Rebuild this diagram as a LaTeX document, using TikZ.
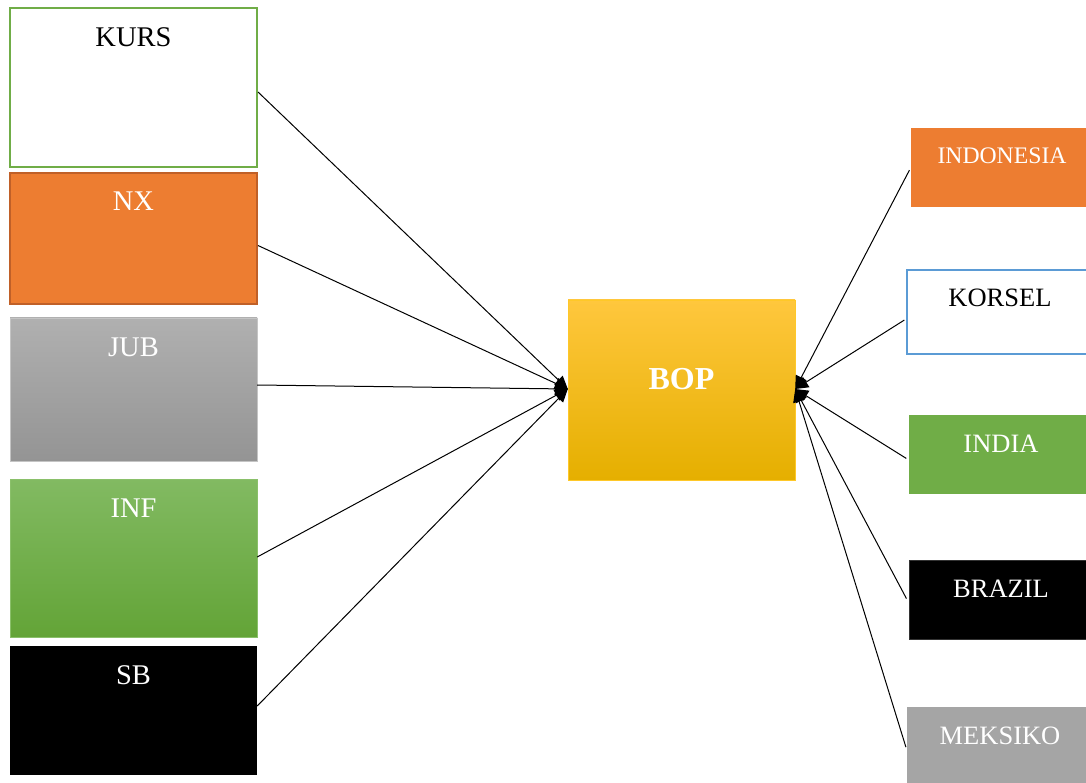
\documentclass[tikz,border=0pt]{standalone}
\usepackage{fontspec}
\setmainfont{Liberation Serif}
\usetikzlibrary{arrows.meta}
\tikzset{
    box/.style={rectangle, inner sep=0pt, minimum width=247pt},
    lbl/.style={anchor=north, yshift=-20pt, inner sep=0pt, font=\fontsize{28.5}{34}\selectfont},
    rlbl/.style={anchor=north, yshift=-20pt, inner sep=0pt, font=\fontsize{26.5}{32}\selectfont},
    arr/.style={-{Triangle[length=13pt,width=12pt]}, line width=1pt},
}
\begin{document}
\begin{tikzpicture}[x=1pt,y=-1pt]
    \useasboundingbox (0,0) rectangle (1086,783);
    % left side
    \node[box, minimum height=159pt, line width=2pt, draw={rgb,255:red,112;green,173;blue,71}, fill=white,
        label={[lbl]north:KURS}] (kurs) at (133.5,87.5) {};
    \node[box, minimum height=131pt, fill={rgb,255:red,237;green,125;blue,49}, draw={rgb,255:red,192;green,96;blue,40}, line width=2pt,
        label={[lbl,white]north:NX}] (nx) at (133.5,238.5) {};
    \node[box, minimum height=143pt, top color={rgb,255:red,176;green,176;blue,176}, bottom color={rgb,255:red,148;green,148;blue,148}, draw={rgb,255:red,196;green,196;blue,196},
        label={[lbl,white]north:JUB}] (jub) at (133.5,389.5) {};
    \node[box, minimum height=158pt, top color={rgb,255:red,130;green,186;blue,98}, middle color={rgb,255:red,112;green,173;blue,71}, bottom color={rgb,255:red,99;green,164;blue,55}, draw={rgb,255:red,138;green,192;blue,106},
        label={[lbl,white]north:INF}] (inf) at (133.5,558) {};
    \node[box, minimum height=129pt, fill=black,
        label={[lbl,white]north:SB}] (sb) at (133.5,710.5) {};
    % centre
    \node[rectangle, minimum width=227pt, minimum height=180pt, top color={rgb,255:red,255;green,199;blue,61}, middle color={rgb,255:red,255;green,192;blue,0}, bottom color={rgb,255:red,229;green,175;blue,0}, draw={rgb,255:red,255;green,200;blue,40},
        text=white, font=\fontsize{32}{38}\selectfont\bfseries, text depth=22pt] (bop) at (681.5,390) {BOP};
    % right side
    \node[box, minimum width=182pt, minimum height=79pt, fill={rgb,255:red,237;green,125;blue,49},
        label={[rlbl,white,font=\fontsize{23.7}{28}\selectfont]north:INDONESIA}] (indonesia) at (1002,167.5) {};
    \node[box, minimum width=186pt, minimum height=84pt, fill=white, draw={rgb,255:red,91;green,155;blue,213}, line width=2pt,
        label={[rlbl]north:KORSEL}] (korsel) at (1000,312) {};
    \node[box, minimum width=184pt, minimum height=79pt, fill={rgb,255:red,112;green,173;blue,71},
        label={[rlbl,white]north:INDIA}] (india) at (1001,454.5) {};
    \node[box, minimum width=184pt, minimum height=79pt, fill=black, draw=black!80,
        label={[rlbl,white]north:BRAZIL}] (brazil) at (1001,599.5) {};
    \node[box, minimum width=186pt, minimum height=79pt, fill={rgb,255:red,165;green,165;blue,165},
        label={[rlbl,white]north:MEKSIKO}] (meksiko) at (1000,746.5) {};
    % connectors
    \draw[arr] ([yshift=-4.5pt]kurs.east) -- ([yshift=1pt]bop.west);
    \draw[arr] ([yshift=-7pt]nx.east) -- ([yshift=1pt]bop.west);
    \draw[arr] ([yshift=4.5pt]jub.east) -- ([yshift=1pt]bop.west);
    \draw[arr] ([yshift=1pt]inf.east) -- ([yshift=1pt]bop.west);
    \draw[arr] ([yshift=4.5pt]sb.east) -- ([yshift=1pt]bop.west);
    \draw[arr, shorten <=3pt] (indonesia.west) -- ([yshift=1pt]bop.east);
    \draw[arr, shorten <=2pt] ([yshift=-7pt]korsel.west) -- ([yshift=1pt]bop.east);
    \draw[arr, shorten <=3pt] ([yshift=-5.5pt]india.west) -- ([yshift=1pt]bop.east);
    \draw[arr, shorten <=5pt] ([yshift=-3.5pt]brazil.west) -- ([yshift=1pt]bop.east);
    \draw[arr, shorten <=3pt] ([yshift=-3.5pt]meksiko.west) -- ([yshift=1pt]bop.east);
\end{tikzpicture}
\end{document}
